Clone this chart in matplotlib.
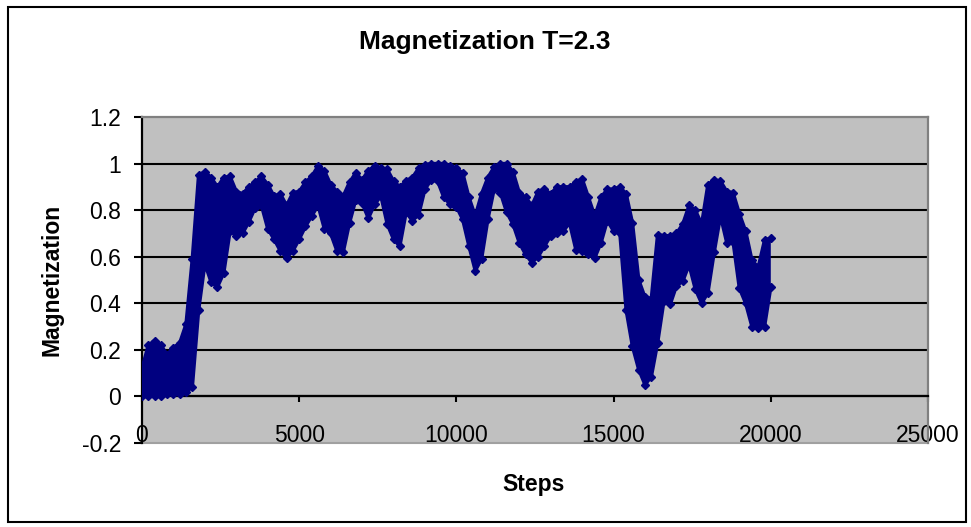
import matplotlib
matplotlib.use("Agg")
import matplotlib.pyplot as plt
from matplotlib.patches import Rectangle

# Monte Carlo sweep index (sampled every 200 steps)
steps = list(range(0, 20001, 200))

# Upper and lower extent of the magnetization within each 200-step window
mag_high = [0.12, 0.22, 0.24, 0.22, 0.18, 0.21, 0.23, 0.31, 0.59, 0.95,
            0.965, 0.94, 0.90, 0.94, 0.945, 0.88, 0.87, 0.90, 0.92, 0.945,
            0.91, 0.86, 0.87, 0.82, 0.875, 0.88, 0.92, 0.945, 0.99, 0.97,
            0.91, 0.88, 0.86, 0.92, 0.96, 0.93, 0.97, 0.99, 0.98, 0.975,
            0.925, 0.90, 0.925, 0.94, 0.98, 0.995, 1.0, 1.0, 1.0, 0.99,
            0.98, 0.96, 0.855, 0.775, 0.87, 0.94, 0.985, 1.0, 1.0, 0.965,
            0.875, 0.855, 0.82, 0.88, 0.89, 0.87, 0.90, 0.90, 0.90, 0.92,
            0.935, 0.855, 0.775, 0.855, 0.89, 0.89, 0.90, 0.87, 0.745, 0.50,
            0.425, 0.42, 0.695, 0.69, 0.69, 0.70, 0.74, 0.82, 0.80, 0.74,
            0.91, 0.93, 0.925, 0.88, 0.875, 0.785, 0.71, 0.585, 0.555, 0.67,
            0.68]
mag_low = [0.0, 0.0, 0.0, 0.0, 0.01, 0.01, 0.01, 0.02, 0.04, 0.37,
           0.57, 0.49, 0.47, 0.53, 0.71, 0.69, 0.70, 0.75, 0.81, 0.82,
           0.72, 0.675, 0.625, 0.595, 0.625, 0.675, 0.73, 0.775, 0.82, 0.72,
           0.70, 0.625, 0.62, 0.745, 0.845, 0.83, 0.765, 0.825, 0.86, 0.74,
           0.675, 0.645, 0.79, 0.755, 0.78, 0.89, 0.93, 0.925, 0.855, 0.825,
           0.815, 0.76, 0.645, 0.54, 0.59, 0.76, 0.89, 0.875, 0.79, 0.74,
           0.66, 0.61, 0.575, 0.60, 0.645, 0.69, 0.70, 0.71, 0.745, 0.63,
           0.625, 0.61, 0.595, 0.66, 0.755, 0.71, 0.70, 0.37, 0.215, 0.115,
           0.05, 0.085, 0.23, 0.41, 0.395, 0.475, 0.495, 0.565, 0.46, 0.40,
           0.445, 0.62, 0.775, 0.66, 0.665, 0.465, 0.40, 0.30, 0.295, 0.30,
           0.47]

x_ticks = [0, 5000, 10000, 15000, 20000, 25000]
x_tick_labels = ["0", "5000", "10000", "15000", "20000", "25000"]
y_ticks = [-0.2, 0, 0.2, 0.4, 0.6, 0.8, 1.0, 1.2]
y_tick_labels = ["-0.2", "0", "0.2", "0.4", "0.6", "0.8", "1", "1.2"]

plt.rcParams['font.family'] = ['Liberation Sans', 'DejaVu Sans']

W, H = 971, 527
fig = plt.figure(figsize=(W / 100, H / 100), dpi=100)
fig.patch.set_facecolor('white')

ax = fig.add_axes([142 / W, 1 - 443 / H, (928 - 142) / W, (443 - 117) / H])
ax.set_facecolor('#C0C0C0')

navy = '#000080'
# rim of the band: diamond markers along both edges
for edge in (mag_high, mag_low):
    ax.plot(steps, edge, color=navy, lw=2.5, solid_joinstyle='round',
            marker='D', ms=4.3, mfc=navy, mec=navy, zorder=4)
# body of the fluctuation band, drawn over the rim
ax.fill_between(steps, mag_low, mag_high, facecolor=navy, edgecolor='none',
                zorder=5)

ax.set_xlim(0, 25000)
ax.set_ylim(-0.2, 1.2)
ax.set_xticks(x_ticks)
ax.set_xticklabels(x_tick_labels)
ax.set_yticks(y_ticks)
ax.set_yticklabels(y_tick_labels)

ax.set_axisbelow(True)
ax.yaxis.grid(True, color='black', lw=1.5)
gl = ax.get_ygridlines()
gl[0].set_visible(False)
gl[-1].set_visible(False)

ax.spines['left'].set_color('black')
ax.spines['left'].set_linewidth(1.6)
ax.spines['bottom'].set_position(('data', 0))
ax.spines['bottom'].set_color('black')
ax.spines['bottom'].set_linewidth(1.6)
for s in ('top', 'right'):
    ax.spines[s].set_color('#808080')
    ax.spines[s].set_linewidth(1.6)
ax.axhline(-0.2, color='#A0A0A0', lw=1.5, clip_on=False, zorder=2.5)

ax.tick_params(axis='x', direction='out', length=4.5, width=1.5,
               pad=15.5, labelsize=16.5, colors='black')
ax.tick_params(axis='y', direction='out', length=6, width=1.5,
               pad=9, labelsize=16.5, colors='black')

fig.text(485 / W, 1 - 42 / H, "Magnetization T=2.3", ha='center',
         va='center', fontsize=19, fontweight='bold')
fig.text(52 / W, 1 - 280 / H, "Magnetization", ha='center', va='center',
         rotation=90, fontsize=16.5, fontweight='bold')
fig.text(534 / W, 1 - 485 / H, "Steps", ha='center', va='center',
         fontsize=16.5, fontweight='bold')

fig.add_artist(Rectangle((8 / W, 1 - 522 / H), (966 - 8) / W, (522 - 7) / H,
                         transform=fig.transFigure, fill=False,
                         edgecolor='black', lw=1.5))

fig.savefig("out.png", dpi=100)
